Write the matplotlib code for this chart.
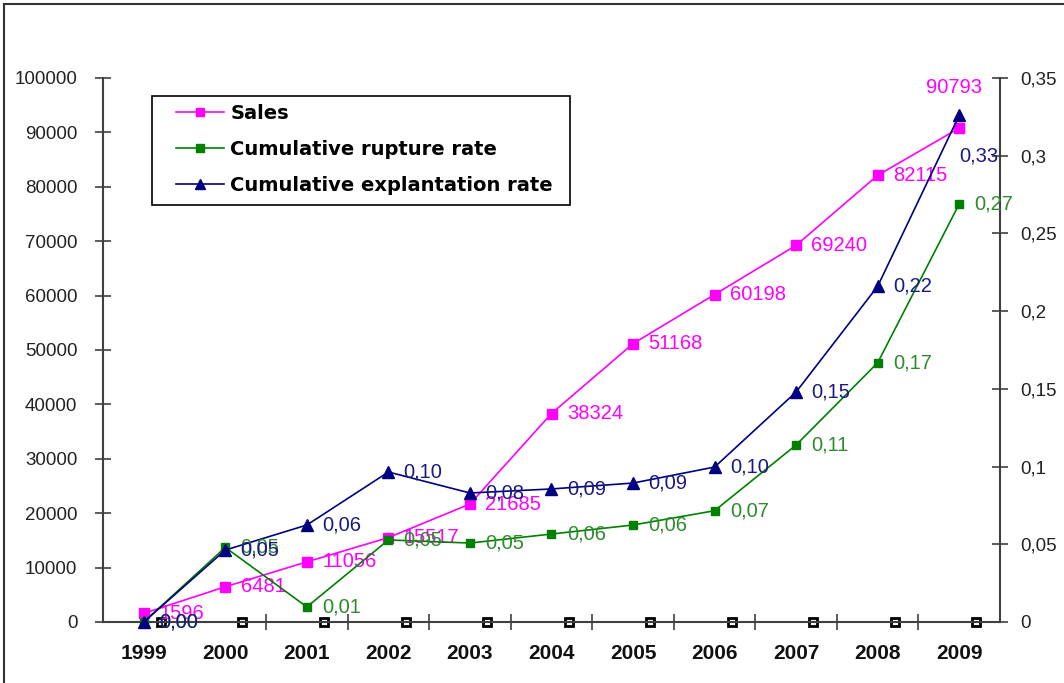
import matplotlib
matplotlib.use('Agg')
import matplotlib.pyplot as plt
from matplotlib.ticker import FuncFormatter
from matplotlib.patches import Rectangle
from matplotlib.lines import Line2D

plt.rcParams['font.family'] = ['Liberation Sans', 'DejaVu Sans']

years = ['1999', '2000', '2001', '2002', '2003', '2004', '2005', '2006', '2007', '2008', '2009']
sales = [1596, 6481, 11056, 15517, 21685, 38324, 51168, 60198, 69240, 82115, 90793]
rupture = [0.0, 0.048, 0.0097, 0.0528, 0.0508, 0.0566, 0.0624, 0.0716, 0.1139, 0.1668, 0.269]
explan = [0.0, 0.0463, 0.0624, 0.0965, 0.083, 0.0856, 0.0894, 0.0997, 0.148, 0.216, 0.326]
zero_series = [0] * 11

PINK = '#ff00ff'
GREEN = '#008000'
NAVY = '#000080'
AXC = '#404040'

W, H = 1064, 683
fig = plt.figure(figsize=(W / 100, H / 100), dpi=100)
rect = [103 / W, 1 - 622 / H, 897 / W, 544 / H]
n = len(years)

# category axis (labels, boundary ticks, zero-series markers)
axc = fig.add_axes(rect, frameon=False)
axc.set_zorder(0)
axc.set_xlim(-0.5, n - 0.5)
axc.set_ylim(0, 1)
axc.set_yticks([])
axc.set_xticks(range(n))
axc.set_xticklabels(years, fontsize=15, fontweight='bold', color='#111111')
axc.tick_params(axis='x', which='major', length=0, pad=16)
axc.set_xticks([k + 0.5 for k in range(1, n - 1)], minor=True)
axc.tick_params(axis='x', which='minor', direction='inout', length=11, width=1.2, color=AXC)
axc.plot([k + 0.21 for k in range(n)], zero_series, 's', ms=6, mfc='white', mec='black',
         mew=2, clip_on=False, zorder=5)

# primary axis: sales
ax = fig.add_axes(rect)
ax.set_zorder(1)
ax.patch.set_visible(False)
ax.set_xlim(-0.5, n - 0.5)
ax.set_ylim(0, 100000)
ax.set_xticks([])
ax.set_yticks(range(0, 100001, 10000))
ax.tick_params(axis='y', direction='inout', length=11, width=1.2, color=AXC,
               labelsize=13.5, labelcolor='#222222', pad=13)
for s in ['top', 'right']:
    ax.spines[s].set_visible(False)
for s in ['left', 'bottom']:
    ax.spines[s].set_color(AXC)
    ax.spines[s].set_linewidth(1.5)
xs = list(range(n))
ax.plot(xs, sales, '-s', color=PINK, lw=1.2, ms=7, clip_on=False, zorder=3)

# secondary axis: rates
ax2 = ax.twinx()
ax2.set_zorder(2)
ax2.set_ylim(0, 0.35)
ax2.set_yticks([0, 0.05, 0.1, 0.15, 0.2, 0.25, 0.3, 0.35])
ax2.yaxis.set_major_formatter(FuncFormatter(lambda v, p: ('%g' % round(v, 2)).replace('.', ',')))
ax2.tick_params(axis='y', direction='inout', length=11, width=1.2, color=AXC,
                labelsize=13.5, labelcolor='#222222', pad=9)
for s in ['top', 'left', 'bottom']:
    ax2.spines[s].set_visible(False)
ax2.spines['right'].set_color(AXC)
ax2.spines['right'].set_linewidth(1.5)
ax2.plot(xs, rupture, '-s', color=GREEN, lw=1.2, ms=6, clip_on=False, zorder=3)
ax2.plot(xs, explan, '-^', color=NAVY, lw=1.2, ms=8, clip_on=False, zorder=4)

LBL = 14.5
OFF = 11
for i, v in enumerate(sales):
    if i == n - 1:
        ax.annotate(str(v), (i, v), xytext=(-4, 29.5), textcoords='offset points',
                    ha='center', va='center', fontsize=LBL, color=PINK, zorder=6)
    else:
        ax.annotate(str(v), (i, v), xytext=(OFF, 0), textcoords='offset points',
                    ha='left', va='center', fontsize=LBL, color=PINK, zorder=6)

fmt = lambda v: ('%.2f' % v).replace('.', ',')
for i, v in enumerate(rupture):
    ax2.annotate(fmt(v), (i, v), xytext=(OFF, 0), textcoords='offset points',
                 ha='left', va='center', fontsize=LBL, color='#2e8b2e', zorder=6)
for i, v in enumerate(explan):
    if i == n - 1:
        ax2.annotate(fmt(v), (i, v), xytext=(0, -29.5), textcoords='offset points',
                     ha='left', va='center', fontsize=LBL, color='#1a1a80', zorder=6)
    else:
        ax2.annotate(fmt(v), (i, v), xytext=(OFF, 0), textcoords='offset points',
                     ha='left', va='center', fontsize=LBL, color='#1a1a80', zorder=6)

handles = [
    Line2D([], [], color=PINK, marker='s', ms=6, lw=1.2),
    Line2D([], [], color=GREEN, marker='s', ms=6, lw=1.2),
    Line2D([], [], color=NAVY, marker='^', ms=7, lw=1.2),
]
labels = ['Sales', 'Cumulative rupture rate', 'Cumulative explantation rate']
leg = ax2.legend(handles, labels, loc='upper left', bbox_to_anchor=(176 / W, 1 - 104 / H),
                 bbox_transform=fig.transFigure, frameon=False,
                 prop={'family': 'DejaVu Sans', 'weight': 'bold', 'size': 14},
                 handlelength=2.45, handletextpad=0.35, labelspacing=0.88,
                 borderpad=0, borderaxespad=0)
leg.set_zorder(10)
fig.patches.append(Rectangle((152 / W, 1 - 205 / H), 418 / W, 109 / H,
                             transform=fig.transFigure, fill=True, fc='white',
                             ec='black', lw=1.2, zorder=0))

fig.patches.append(Rectangle((4 / W, -0.1), 1.2, 1 - 4 / H + 0.1, transform=fig.transFigure,
                             fill=False, ec='#333333', lw=1.5))

fig.savefig('out.png', dpi=100)
